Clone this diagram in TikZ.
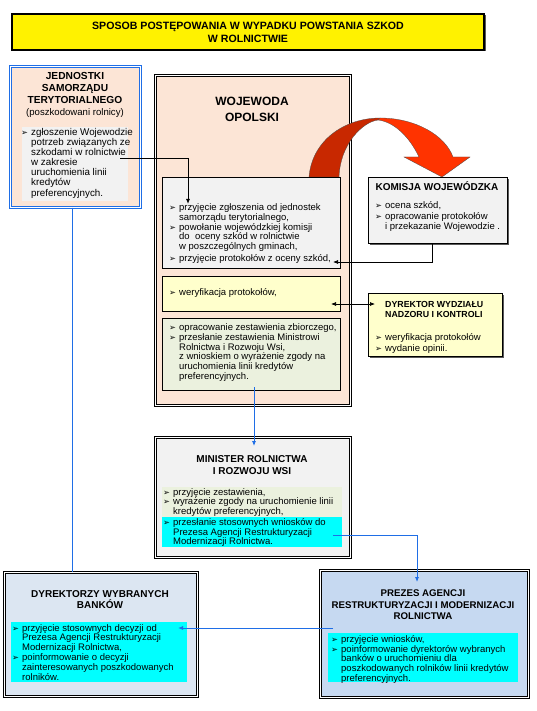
\documentclass[tikz,border=0pt]{standalone}
\usepackage{fontspec}
\setmainfont{Liberation Sans}
\newfontfamily\symfont{DejaVu Sans}
\usetikzlibrary{arrows.meta,shadows}

\definecolor{peach}{RGB}{252,229,214}
\definecolor{boxgray}{RGB}{242,242,242}
\definecolor{paleyellow}{RGB}{255,255,204}
\definecolor{palegreen}{RGB}{235,241,222}
\definecolor{aqua}{RGB}{0,255,255}
\definecolor{paleblue}{RGB}{198,217,241}
\definecolor{bankblue}{RGB}{220,230,242}
\definecolor{linkblue}{RGB}{31,110,230}
\definecolor{ribbondark}{RGB}{200,40,0}
\definecolor{ribbonlight}{RGB}{255,51,0}

\newcommand\itm{\makebox[10pt][l]{\symfont\fontsize{8.2}{8}\selectfont ➢}}
\newcommand\ind{\hspace*{10pt}}

\tikzset{
  panel/.style={draw=black, rectangle, anchor=north west, inner sep=0pt},
  dblpanel/.style={panel, line width=0.7pt, double=white, double distance=1.6pt},
  shadowpanel/.style={panel, line width=0.9pt, drop shadow={shadow xshift=1.5pt, shadow yshift=-1.5pt, fill=black!65, opacity=1}},
  listtext/.style={anchor=north west, inner sep=0pt, align=left, font=\fontsize{9.5}{9.8}\selectfont,
                   execute at begin node={\rule{0pt}{7.5pt}}},
  headtext/.style={anchor=north, inner sep=0pt, align=center, font=\fontsize{10}{11.5}\selectfont\bfseries,
                   execute at begin node={\rule{0pt}{9.5pt}}},
  feed/.style={draw=black, line width=0.9pt, -{Latex[length=5pt,width=4pt]}},
  link/.style={draw=linkblue, line width=0.8pt},
}

\begin{document}
\begin{tikzpicture}[x=1pt,y=-1pt]
\useasboundingbox[fill=white] (0,0) rectangle (536,711);

% title
\node[shadowpanel, fill=yellow, line width=1.2pt, anchor=center, minimum width=472pt, minimum height=36pt,
      align=center, font=\fontsize{10.6}{13}\selectfont\bfseries] (title) at (248,32)
      {SPOSOB POSTĘPOWANIA W WYPADKU POWSTANIA SZKOD\\W ROLNICTWIE};

% jednostki samorzadu
\node[dblpanel, draw=linkblue, fill=peach, minimum width=130pt, minimum height=141pt] (jst) at (10,66) {};
\node[headtext, font=\fontsize{10.2}{12.2}\selectfont\bfseries] (jsttitle) at (75,72)
      {JEDNOSTKI\\SAMORZĄDU\\TERYTORIALNEGO\\{\mdseries\fontsize{9.6}{11}\selectfont(poszkodowani rolnicy)}};
\node[panel, draw=none, fill=boxgray, minimum width=106pt, minimum height=74pt] (jstbg) at (22,127) {};
\node[listtext, font=\fontsize{9.8}{10}\selectfont] (jsttext) at (21,128)
      {\itm zgłoszenie Wojewodzie\\\ind potrzeb związanych ze\\\ind szkodami w rolnictwie\\\ind w zakresie\\
       \ind uruchomienia linii\\\ind kredytów\\[1pt]\ind preferencyjnych.};

% wojewoda
\node[dblpanel, fill=peach, minimum width=195pt, minimum height=330pt] (woj) at (155,75) {};
\node[headtext, font=\fontsize{12}{16}\selectfont\bfseries] (wojtitle) at (252,96.5) {WOJEWODA\\OPOLSKI};

% ribbon arrow
\fill[ribbondark, draw=black!70, line width=0.3pt] (309,177) .. controls (312,140) and (345,118) .. (380,118)
    -- (378,120) .. controls (362,122) and (340,145) .. (339,177) -- cycle;
\fill[ribbonlight, draw=black!70, line width=0.3pt] (380,118) .. controls (415,118) and (445,135) .. (453,157)
    -- (470,157) -- (442,177) -- (404,157) -- (419,157) .. controls (410,138) and (395,122) .. (378,120) -- cycle;

\node[panel, fill=boxgray, line width=0.6pt, minimum width=178pt, minimum height=91pt] (woj1) at (162,177) {};
\node[listtext] (woj1text) at (169,203.5)
      {\itm przyjęcie zgłoszenia od jednostek\\\ind samorządu terytorialnego,\\\itm powołanie wojewódzkiej komisji\\
       \ind do\ \ oceny szkód w rolnictwie\\\ind w poszczególnych gminach,\\[1.5pt]\itm przyjęcie protokołów z oceny szkód,};
\node[panel, fill=paleyellow, line width=0.6pt, minimum width=178pt, minimum height=35pt] (woj2) at (162,276) {};
\node[listtext] (woj2text) at (169,288) {\itm weryfikacja protokołów,};
\node[panel, fill=palegreen, line width=0.6pt, minimum width=178pt, minimum height=72pt] (woj3) at (162,318) {};
\node[listtext] (woj3text) at (169,323.5)
      {\itm opracowanie zestawienia zbiorczego,\\\itm przesłanie zestawienia Ministrowi\\\ind Rolnictwa i Rozwoju Wsi,\\
       \ind z wnioskiem o wyrażenie zgody na\\\ind uruchomienia linii kredytów\\\ind preferencyjnych.};

% komisja wojewodzka
\node[shadowpanel, fill=boxgray, minimum width=139pt, minimum height=66pt] (kom) at (368,177) {};
\node[headtext] (komtitle) at (437,181) {KOMISJA WOJEWÓDZKA};
\node[listtext, font=\fontsize{9.5}{10.6}\selectfont] (komtext) at (375,201.5)
      {\itm ocena szkód,\\\itm opracowanie protokołów\\\ind i przekazanie Wojewodzie .};

% dyrektor wydzialu
\node[shadowpanel, fill=paleyellow, minimum width=134pt, minimum height=63pt] (dwnk) at (368,293) {};
\node[headtext, anchor=north west, align=left, font=\fontsize{8.8}{10}\selectfont\bfseries] (dwnktitle) at (385,301)
      {DYREKTOR WYDZIAŁU\\NADZORU I KONTROLI};
\node[listtext, font=\fontsize{9.5}{10.5}\selectfont] (dwnktext) at (375,333.5) {\itm weryfikacja protokołów\\\itm wydanie opinii.};

% minister
\node[dblpanel, fill=boxgray, minimum width=195pt, minimum height=120pt] (min) at (155,437) {};
\node[headtext, font=\fontsize{10}{12}\selectfont\bfseries] (mintitle) at (252,455) {MINISTER ROLNICTWA\\I ROZWOJU WSI};
\node[panel, draw=none, fill=palegreen, minimum width=180pt, minimum height=30pt] (min1) at (162,487) {};
\node[panel, draw=none, fill=aqua, minimum width=180pt, minimum height=30pt] (min2) at (162,517) {};
\node[listtext] (min1text) at (163,488)
      {\itm przyjęcie zestawienia,\\\itm wyrażenie zgody na uruchomienie linii\\\ind kredytów preferencyjnych,};
\node[listtext] (min2text) at (163,518)
      {\itm przesłanie stosownych wniosków do\\\ind Prezesa Agencji Restrukturyzacji\\\ind Modernizacji Rolnictwa.};

% prezes agencji
\node[dblpanel, fill=paleblue, minimum width=208pt, minimum height=127pt] (prez) at (320,570) {};
\node[headtext, font=\fontsize{9.7}{11.5}\selectfont\bfseries] (preztitle) at (423,590)
      {PREZES AGENCJI\\RESTRUKTURYZACJI I MODERNIZACJI\\ROLNICTWA};
\node[panel, draw=none, fill=aqua, minimum width=190pt, minimum height=49pt] (prezbg) at (328,633) {};
\node[listtext] (preztext) at (331,635)
      {\itm przyjęcie wniosków,\\\itm poinformowanie dyrektorów wybranych\\\ind banków o uruchomieniu dla\\
       \ind poszkodowanych rolników linii kredytów\\\ind preferencyjnych.};

% dyrektorzy bankow
\node[dblpanel, fill=bankblue, minimum width=193pt, minimum height=124pt] (bank) at (4,572) {};
\node[headtext] (banktitle) at (100,590) {DYREKTORZY WYBRANYCH\\BANKÓW};
\node[panel, draw=none, fill=aqua, minimum width=176pt, minimum height=60pt] (bankbg) at (11,622) {};
\node[listtext] (banktext) at (12,624)
      {\itm przyjęcie stosownych decyzji od\\\ind Prezesa Agencji Restrukturyzacji\\\ind Modernizacji Rolnictwa,\\
       \itm poinformowanie o decyzji\\\ind zainteresowanych poszkodowanych\\\ind rolników.};

% connectors
\coordinate (jstout) at (120,158);
\coordinate (wojin) at (188,204);
\draw[feed] (jstout) -| (wojin);
\coordinate (komin) at (333,262);
\draw[feed, line width=0.7pt] ([xshift=-5.5pt]kom.south) |- (komin);
\coordinate (wojver) at (331,304);
\coordinate (dwnkin) at (375,304);
\draw[feed, line width=0.7pt, {Latex[length=5pt,width=4pt]}-{Latex[length=5pt,width=4pt]}] (wojver) -- (dwnkin);
\coordinate (wojout) at (254,387);
\coordinate (minin) at (254,446);
\draw[link, -{Latex[length=5pt,width=4pt]}] (wojout) -- (minin);
\coordinate (minout) at (333,535);
\coordinate (prezin) at (417,582);
\draw[link, -{Latex[length=5pt,width=4pt]}] (minout) -| (prezin);
\coordinate (prezout) at (333,628);
\coordinate (bankin) at (178,628);
\draw[link, -{Latex[length=5pt,width=4pt]}] (prezout) -- (bankin);
\draw[link] ([xshift=-3pt]jst.south) -- ([xshift=-3pt]jst.south |- bank.north);
\end{tikzpicture}
\end{document}
